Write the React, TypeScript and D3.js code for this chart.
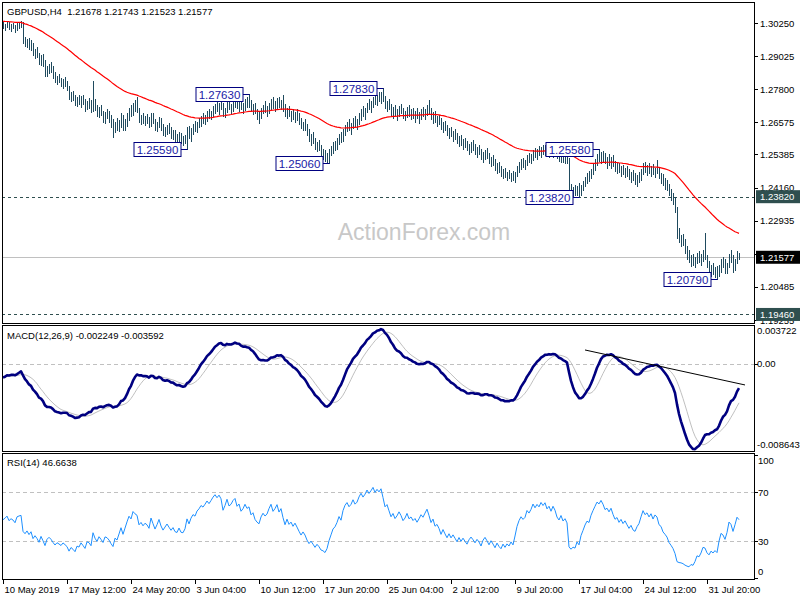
import * as d3 from "d3";

// GBPUSD H4 bars, 10 May - 2 Aug 2019
const highs = [
  1.3030, 1.3022, 1.3034, 1.3030, 1.3020, 1.3026, 1.3018, 1.3024, 1.3030, 1.3032,
  1.3030, 1.2972, 1.2966, 1.2968, 1.2962, 1.2950, 1.2930, 1.2935, 1.2915, 1.2905,
  1.2910, 1.2888, 1.2865, 1.2875, 1.2880, 1.2866, 1.2845, 1.2830, 1.2836, 1.2822,
  1.2818, 1.2825, 1.2810, 1.2790, 1.2770, 1.2775, 1.2760, 1.2752, 1.2760, 1.2756,
  1.2758, 1.2745, 1.2738, 1.2748, 1.2740, 1.2812, 1.2742, 1.2722, 1.2715, 1.2720,
  1.2700, 1.2695, 1.2705, 1.2698, 1.2685, 1.2670, 1.2660, 1.2675, 1.2665, 1.2690,
  1.2685, 1.2668, 1.2690, 1.2712, 1.2722, 1.2730, 1.2740, 1.2750, 1.2712, 1.2685,
  1.2690, 1.2680, 1.2688, 1.2676, 1.2690, 1.2692, 1.2670, 1.2660, 1.2676, 1.2674,
  1.2652, 1.2640, 1.2648, 1.2656, 1.2640, 1.2630, 1.2628, 1.2615, 1.2620, 1.2618,
  1.2605, 1.2612, 1.2640, 1.2642, 1.2635, 1.2650, 1.2662, 1.2660, 1.2672, 1.2680,
  1.2690, 1.2685, 1.2700, 1.2706, 1.2700, 1.2716, 1.2725, 1.2735, 1.2728, 1.2748,
  1.2730, 1.2712, 1.2740, 1.2745, 1.2725, 1.2740, 1.2755, 1.2752, 1.2738, 1.2745,
  1.2728, 1.2742, 1.2750, 1.2763, 1.2740, 1.2725, 1.2728, 1.2708, 1.2700, 1.2712,
  1.2722, 1.2735, 1.2718, 1.2730, 1.2745, 1.2750, 1.2738, 1.2748, 1.2752, 1.2740,
  1.2758, 1.2725, 1.2712, 1.2718, 1.2700, 1.2708, 1.2695, 1.2705, 1.2690, 1.2675,
  1.2660, 1.2668, 1.2650, 1.2632, 1.2615, 1.2620, 1.2600, 1.2585, 1.2592, 1.2575,
  1.2560, 1.2555, 1.2545, 1.2560, 1.2570, 1.2585, 1.2590, 1.2598, 1.2615, 1.2620,
  1.2632, 1.2648, 1.2660, 1.2668, 1.2655, 1.2672, 1.2680, 1.2670, 1.2690, 1.2705,
  1.2718, 1.2710, 1.2730, 1.2745, 1.2735, 1.2752, 1.2765, 1.2758, 1.2770, 1.2768,
  1.2783, 1.2755, 1.2738, 1.2745, 1.2725, 1.2715, 1.2722, 1.2705, 1.2718, 1.2725,
  1.2712, 1.2700, 1.2715, 1.2720, 1.2705, 1.2712, 1.2700, 1.2710, 1.2695, 1.2705,
  1.2715, 1.2708, 1.2722, 1.2740, 1.2712, 1.2695, 1.2700, 1.2680, 1.2685, 1.2672,
  1.2658, 1.2662, 1.2648, 1.2635, 1.2640, 1.2625, 1.2632, 1.2618, 1.2605, 1.2610,
  1.2595, 1.2600, 1.2590, 1.2578, 1.2585, 1.2592, 1.2578, 1.2565, 1.2575, 1.2560,
  1.2548, 1.2555, 1.2562, 1.2545, 1.2530, 1.2535, 1.2520, 1.2505, 1.2510, 1.2495,
  1.2485, 1.2490, 1.2475, 1.2482, 1.2470, 1.2478, 1.2475, 1.2495, 1.2510, 1.2520,
  1.2525, 1.2518, 1.2535, 1.2545, 1.2540, 1.2555, 1.2562, 1.2558, 1.2570, 1.2565,
  1.2575, 1.2572, 1.2578, 1.2565, 1.2572, 1.2568, 1.2575, 1.2565, 1.2555, 1.2545,
  1.2548, 1.2540, 1.2545, 1.2525, 1.2430, 1.2418, 1.2425, 1.2420, 1.2432, 1.2425,
  1.2440, 1.2455, 1.2470, 1.2478, 1.2485, 1.2505, 1.2520, 1.2540, 1.2558, 1.2548,
  1.2552, 1.2545, 1.2530, 1.2540, 1.2528, 1.2535, 1.2515, 1.2505, 1.2508, 1.2495,
  1.2500, 1.2490, 1.2495, 1.2485, 1.2475, 1.2480, 1.2470, 1.2462, 1.2475, 1.2485,
  1.2505, 1.2510, 1.2498, 1.2505, 1.2495, 1.2502, 1.2490, 1.2518, 1.2490, 1.2470,
  1.2465, 1.2450, 1.2445, 1.2430, 1.2410, 1.2395, 1.2380, 1.2345, 1.2265, 1.2240,
  1.2245, 1.2225, 1.2200, 1.2185, 1.2165, 1.2170, 1.2160, 1.2175, 1.2180, 1.2168,
  1.2185, 1.2247, 1.2165, 1.2145, 1.2130, 1.2135, 1.2120, 1.2125, 1.2130, 1.2150,
  1.2160, 1.2150, 1.2135, 1.2170, 1.2185, 1.2165, 1.2150, 1.2180, 1.21743,
];

const lows = [
  1.3005, 1.2998, 1.3010, 1.3004, 1.2996, 1.3006, 1.2992, 1.2998, 1.3008, 1.3012,
  1.2950, 1.2940, 1.2935, 1.2930, 1.2926, 1.2905, 1.2895, 1.2898, 1.2875, 1.2870,
  1.2864, 1.2830, 1.2828, 1.2840, 1.2845, 1.2822, 1.2805, 1.2800, 1.2806, 1.2790,
  1.2785, 1.2790, 1.2778, 1.2745, 1.2735, 1.2740, 1.2722, 1.2716, 1.2725, 1.2715,
  1.2724, 1.2700, 1.2705, 1.2710, 1.2694, 1.2700, 1.2702, 1.2680, 1.2678, 1.2684,
  1.2660, 1.2655, 1.2672, 1.2660, 1.2640, 1.2603, 1.2620, 1.2630, 1.2625, 1.2640,
  1.2630, 1.2628, 1.2645, 1.2666, 1.2680, 1.2685, 1.2700, 1.2695, 1.2660, 1.2650,
  1.2655, 1.2648, 1.2656, 1.2640, 1.2645, 1.2655, 1.2628, 1.2625, 1.2640, 1.2630,
  1.2612, 1.2605, 1.2615, 1.2618, 1.2600, 1.2596, 1.2590, 1.2585, 1.2588, 1.2582,
  1.2575, 1.2580, 1.2559, 1.2600, 1.2590, 1.2615, 1.2625, 1.2620, 1.2640, 1.2645,
  1.2655, 1.2650, 1.2662, 1.2672, 1.2668, 1.2680, 1.2690, 1.2700, 1.2688, 1.2705,
  1.2680, 1.2676, 1.2695, 1.2705, 1.2690, 1.2700, 1.2715, 1.2712, 1.2700, 1.2705,
  1.2690, 1.2702, 1.2715, 1.2715, 1.2700, 1.2688, 1.2690, 1.2670, 1.2655, 1.2672,
  1.2690, 1.2695, 1.2680, 1.2692, 1.2705, 1.2712, 1.2700, 1.2710, 1.2715, 1.2705,
  1.2700, 1.2680, 1.2675, 1.2680, 1.2662, 1.2670, 1.2660, 1.2665, 1.2650, 1.2635,
  1.2628, 1.2630, 1.2610, 1.2590, 1.2575, 1.2580, 1.2560, 1.2550, 1.2555, 1.2535,
  1.2520, 1.2515, 1.2512, 1.2506, 1.2535, 1.2545, 1.2555, 1.2560, 1.2578, 1.2585,
  1.2590, 1.2610, 1.2625, 1.2630, 1.2615, 1.2635, 1.2645, 1.2632, 1.2650, 1.2665,
  1.2680, 1.2670, 1.2695, 1.2705, 1.2695, 1.2715, 1.2725, 1.2720, 1.2735, 1.2728,
  1.2735, 1.2710, 1.2700, 1.2705, 1.2685, 1.2675, 1.2685, 1.2665, 1.2680, 1.2690,
  1.2672, 1.2665, 1.2678, 1.2682, 1.2668, 1.2675, 1.2660, 1.2672, 1.2655, 1.2668,
  1.2680, 1.2670, 1.2685, 1.2690, 1.2670, 1.2655, 1.2660, 1.2645, 1.2650, 1.2632,
  1.2622, 1.2628, 1.2610, 1.2600, 1.2605, 1.2590, 1.2595, 1.2580, 1.2570, 1.2575,
  1.2560, 1.2565, 1.2555, 1.2540, 1.2548, 1.2555, 1.2540, 1.2528, 1.2540, 1.2520,
  1.2510, 1.2520, 1.2525, 1.2505, 1.2495, 1.2498, 1.2482, 1.2470, 1.2475, 1.2460,
  1.2450, 1.2455, 1.2445, 1.2450, 1.2440, 1.2445, 1.2436, 1.2460, 1.2475, 1.2485,
  1.2492, 1.2485, 1.2500, 1.2510, 1.2505, 1.2518, 1.2528, 1.2520, 1.2535, 1.2530,
  1.2540, 1.2535, 1.2540, 1.2530, 1.2535, 1.2528, 1.2538, 1.2525, 1.2515, 1.2510,
  1.2512, 1.2505, 1.2508, 1.2405, 1.2392, 1.2385, 1.2390, 1.2388, 1.2382, 1.2390,
  1.2405, 1.2420, 1.2432, 1.2440, 1.2450, 1.2465, 1.2480, 1.2500, 1.2515, 1.2505,
  1.2515, 1.2505, 1.2490, 1.2500, 1.2488, 1.2495, 1.2478, 1.2468, 1.2472, 1.2460,
  1.2465, 1.2455, 1.2460, 1.2448, 1.2438, 1.2442, 1.2430, 1.2420, 1.2435, 1.2445,
  1.2465, 1.2472, 1.2462, 1.2468, 1.2458, 1.2465, 1.2455, 1.2470, 1.2450, 1.2432,
  1.2425, 1.2410, 1.2405, 1.2390, 1.2370, 1.2355, 1.2325, 1.2230, 1.2215, 1.2200,
  1.2205, 1.2175, 1.2150, 1.2140, 1.2125, 1.2130, 1.2120, 1.2135, 1.2140, 1.2128,
  1.2145, 1.2150, 1.2120, 1.2100, 1.2090, 1.2095, 1.2085, 1.2079, 1.2090, 1.2105,
  1.2120, 1.2100, 1.2098, 1.2120, 1.2140, 1.2105, 1.2110, 1.2135, 1.21523,
];

const closes = [
  1.3012, 1.3018, 1.3026, 1.3008, 1.3015, 1.3010, 1.3000, 1.3019, 1.3022, 1.3024,
  1.2962, 1.2950, 1.2958, 1.2940, 1.2948, 1.2912, 1.2920, 1.2905, 1.2882, 1.2898,
  1.2872, 1.2838, 1.2856, 1.2862, 1.2850, 1.2830, 1.2812, 1.2818, 1.2810, 1.2800,
  1.2806, 1.2796, 1.2784, 1.2752, 1.2760, 1.2748, 1.2730, 1.2742, 1.2736, 1.2745,
  1.2730, 1.2712, 1.2726, 1.2722, 1.2705, 1.2735, 1.2708, 1.2690, 1.2702, 1.2688,
  1.2670, 1.2684, 1.2680, 1.2668, 1.2648, 1.2630, 1.2650, 1.2640, 1.2655, 1.2672,
  1.2642, 1.2660, 1.2680, 1.2700, 1.2690, 1.2718, 1.2710, 1.2705, 1.2668, 1.2676,
  1.2662, 1.2670, 1.2664, 1.2650, 1.2682, 1.2660, 1.2636, 1.2650, 1.2668, 1.2640,
  1.2620, 1.2630, 1.2640, 1.2626, 1.2612, 1.2620, 1.2602, 1.2598, 1.2610, 1.2592,
  1.2590, 1.2600, 1.2628, 1.2610, 1.2628, 1.2640, 1.2635, 1.2652, 1.2660, 1.2672,
  1.2668, 1.2678, 1.2690, 1.2684, 1.2695, 1.2708, 1.2718, 1.2712, 1.2722, 1.2715,
  1.2690, 1.2705, 1.2728, 1.2712, 1.2718, 1.2732, 1.2740, 1.2722, 1.2730, 1.2712,
  1.2720, 1.2735, 1.2725, 1.2730, 1.2710, 1.2716, 1.2698, 1.2690, 1.2685, 1.2702,
  1.2712, 1.2705, 1.2710, 1.2725, 1.2738, 1.2722, 1.2730, 1.2742, 1.2725, 1.2735,
  1.2712, 1.2690, 1.2705, 1.2688, 1.2694, 1.2680, 1.2688, 1.2675, 1.2660, 1.2645,
  1.2652, 1.2640, 1.2618, 1.2600, 1.2605, 1.2590, 1.2572, 1.2578, 1.2565, 1.2545,
  1.2540, 1.2528, 1.2535, 1.2550, 1.2562, 1.2575, 1.2580, 1.2590, 1.2605, 1.2595,
  1.2622, 1.2640, 1.2650, 1.2640, 1.2648, 1.2665, 1.2655, 1.2662, 1.2682, 1.2698,
  1.2690, 1.2702, 1.2722, 1.2715, 1.2728, 1.2745, 1.2735, 1.2750, 1.2745, 1.2760,
  1.2742, 1.2720, 1.2728, 1.2712, 1.2695, 1.2705, 1.2690, 1.2698, 1.2710, 1.2700,
  1.2685, 1.2692, 1.2705, 1.2690, 1.2695, 1.2685, 1.2690, 1.2680, 1.2688, 1.2698,
  1.2692, 1.2702, 1.2712, 1.2698, 1.2680, 1.2688, 1.2668, 1.2672, 1.2660, 1.2640,
  1.2650, 1.2635, 1.2620, 1.2628, 1.2612, 1.2618, 1.2605, 1.2590, 1.2598, 1.2582,
  1.2588, 1.2575, 1.2562, 1.2570, 1.2575, 1.2565, 1.2552, 1.2558, 1.2548, 1.2530,
  1.2540, 1.2545, 1.2532, 1.2515, 1.2522, 1.2508, 1.2490, 1.2498, 1.2482, 1.2470,
  1.2478, 1.2462, 1.2468, 1.2458, 1.2465, 1.2452, 1.2468, 1.2488, 1.2502, 1.2512,
  1.2505, 1.2510, 1.2528, 1.2522, 1.2532, 1.2548, 1.2540, 1.2550, 1.2545, 1.2558,
  1.2552, 1.2560, 1.2548, 1.2555, 1.2545, 1.2558, 1.2550, 1.2535, 1.2528, 1.2538,
  1.2525, 1.2530, 1.2520, 1.2418, 1.2400, 1.2405, 1.2398, 1.2412, 1.2395, 1.2418,
  1.2432, 1.2448, 1.2460, 1.2455, 1.2478, 1.2495, 1.2512, 1.2530, 1.2525, 1.2540,
  1.2530, 1.2515, 1.2520, 1.2510, 1.2522, 1.2505, 1.2490, 1.2495, 1.2480, 1.2488,
  1.2475, 1.2482, 1.2470, 1.2458, 1.2465, 1.2450, 1.2445, 1.2455, 1.2462, 1.2478,
  1.2495, 1.2485, 1.2490, 1.2480, 1.2488, 1.2475, 1.2485, 1.2480, 1.2460, 1.2455,
  1.2438, 1.2430, 1.2420, 1.2398, 1.2385, 1.2368, 1.2335, 1.2245, 1.2230, 1.2225,
  1.2212, 1.2185, 1.2165, 1.2150, 1.2155, 1.2140, 1.2148, 1.2160, 1.2150, 1.2158,
  1.2170, 1.2165, 1.2130, 1.2112, 1.2120, 1.2105, 1.2110, 1.2095, 1.2120, 1.2140,
  1.2132, 1.2110, 1.2128, 1.2160, 1.2150, 1.2118, 1.2140, 1.2168, 1.21577,
];

const timeLabels = [
  "10 May 2019", "17 May 12:00", "24 May 20:00", "3 Jun 04:00", "10 Jun 12:00", "17 Jun 20:00",
  "25 Jun 04:00", "2 Jul 12:00", "9 Jul 20:00", "17 Jul 04:00", "24 Jul 12:00", "31 Jul 20:00",
];
const barsPerLabel = 32;

const priceTicks = [1.3025, 1.29025, 1.278, 1.26575, 1.25385, 1.2416, 1.22935, 1.2171, 1.20485, 1.19255];
const levelPrices = [1.2382, 1.1946];
const lastPrice = 1.21577;

// swing high / low labels
const swingBars = [92, 123, 163, 190, 288, 298, 357];
const swingPrices = [1.2559, 1.2763, 1.2506, 1.2783, 1.2382, 1.2558, 1.2079];

// indicator settings, seeds from the values at the left edge of the chart
const maPeriod = 55;
const maSeed = 1.3032;
const fastSeed = 1.3022;
const slowSeed = 1.3036;
const rsiSeedGain = 0.0009;
const rsiSeedLoss = 0.001;

const macdRange = [-0.008643, 0.003722];
const macdTicks = [0.003722, 0, -0.008643];
const rsiTicks = [100, 70, 30, 0];
const rsiLevels = [70, 30];
const trendBars = [291, 371];
const trendValues = [0.00135, -0.00211];

const FONT = "Liberation Sans, Arial, sans-serif";
const BAR_COLOR = "#1f4a5e";

const ema = (vals: number[], period: number, seed: number) => {
  const k = 2 / (period + 1);
  let prev = seed;
  return vals.map((v) => (prev = prev + k * (v - prev)));
};

const rsiOf = (vals: number[], period: number) => {
  let g = rsiSeedGain;
  let l = rsiSeedLoss;
  return vals.map((v, i) => {
    if (i > 0) {
      const d = v - vals[i - 1];
      g = (g * (period - 1) + Math.max(d, 0)) / period;
      l = (l * (period - 1) + Math.max(-d, 0)) / period;
    }
    return 100 - 100 / (1 + g / l);
  });
};

const App = () => {
  const left = 2, right = 754;
  const main = {top: 2, bottom: 323};
  const macdP = {top: 325, bottom: 451};
  const rsiP = {top: 453, bottom: 579};

  const n = closes.length;
  const x = d3.scaleLinear().domain([0, n - 1]).range([3, 3 + 2 * (n - 1)]);
  const y = d3.scaleLinear().domain([priceTicks[priceTicks.length - 1], priceTicks[0]]).range([320, 23]);
  const yM = d3.scaleLinear().domain(macdRange).range([macdP.bottom, macdP.top + 1]);
  const yR = d3.scaleLinear().domain([0, 100]).range([577.75, 455.25]);

  const ma = ema(closes, maPeriod, maSeed);
  const fast = ema(closes, 12, fastSeed);
  const slow = ema(closes, 26, slowSeed);
  const macd = fast.map((f, i) => f - slow[i]);
  const signal = macd.map((_, i) => d3.mean(macd.slice(Math.max(0, i - 8), i + 1)) as number);
  const rsi = rsiOf(closes, 14);

  const px = (i: number) => Math.round(x(i)) + 0.5;
  const barPath = closes
    .map((_, i) => `M${px(i)},${Math.round(y(highs[i]))}V${Math.round(y(lows[i])) + 1}`)
    .join("");

  const lineOf = (vals: number[], sy: d3.ScaleLinear<number, number>) =>
    d3.line<number>().x((_, i) => x(i)).y((v) => sy(v))(vals) || "";

  const axisText = {fontFamily: FONT, fontSize: 9.5, fill: "#000"};

  return (
    <svg width={800} height={600} style={{position: "absolute", left: 0, top: 0, background: "#fff"}}>
      <defs>
        <clipPath id="clipMain"><rect x={left} y={main.top} width={right - left} height={main.bottom - main.top} /></clipPath>
        <clipPath id="clipMacd"><rect x={left} y={macdP.top} width={right - left} height={macdP.bottom - macdP.top} /></clipPath>
        <clipPath id="clipRsi"><rect x={left} y={rsiP.top} width={right - left} height={rsiP.bottom - rsiP.top} /></clipPath>
      </defs>

      {/* watermark */}
      <text x={424} y={240} textAnchor="middle" fontFamily={FONT} fontSize={23} fill="#c8c8c8">ActionForex.com</text>

      {/* main panel */}
      <g clipPath="url(#clipMain)">
        {levelPrices.map((p) => (
          <line key={p} x1={left} x2={right} y1={Math.round(y(p)) + 0.5} y2={Math.round(y(p)) + 0.5}
                stroke="#2f4f4f" strokeDasharray="3,3" />
        ))}
        <line x1={left} x2={right} y1={Math.round(y(lastPrice)) + 0.5} y2={Math.round(y(lastPrice)) + 0.5} stroke="#c0c0c0" />
        <path d={barPath} stroke={BAR_COLOR} strokeWidth={1} shapeRendering="crispEdges" fill="none" />
        <path d={lineOf(ma, y)} stroke="#ff0000" strokeWidth={1.2} fill="none" />
        {swingBars.map((b, k) => {
          const yy = Math.round(y(swingPrices[k])) + 0.5;
          const bx = Math.round(x(b)) - 6;
          return (
            <g key={b}>
              <line x1={bx} x2={px(b)} y1={yy} y2={yy} stroke="#000080" />
              <rect x={bx - 47} y={yy - 7} width={47} height={14} fill="#fff" stroke="#000080" />
              <text x={bx - 23.5} y={yy + 4} textAnchor="middle" fontFamily={FONT} fontSize={11.5} fill="#1a1aa6">
                {swingPrices[k].toFixed(5)}
              </text>
            </g>
          );
        })}
      </g>
      <text x={7} y={15} {...axisText} style={{whiteSpace: "pre"}}>GBPUSD,H4  1.21678 1.21743 1.21523 1.21577</text>

      {/* MACD panel */}
      <g clipPath="url(#clipMacd)">
        <line x1={left} x2={right} y1={Math.round(yM(0)) + 0.5} y2={Math.round(yM(0)) + 0.5} stroke="#c0c0c0" strokeDasharray="4,3" />
        <path d={lineOf(signal, yM)} stroke="#c0c0c0" strokeWidth={1} fill="none" />
        <path d={lineOf(macd, yM)} stroke="#000080" strokeWidth={2.6} fill="none" strokeLinejoin="round" />
        <line x1={x(trendBars[0])} x2={x(trendBars[1])} y1={yM(trendValues[0])} y2={yM(trendValues[1])} stroke="#000" strokeWidth={1} />
      </g>
      <text x={7} y={339} {...axisText}>MACD(12,26,9) -0.002249 -0.003592</text>

      {/* RSI panel */}
      <g clipPath="url(#clipRsi)">
        {rsiLevels.map((v) => (
          <line key={v} x1={left} x2={right} y1={Math.round(yR(v)) + 0.5} y2={Math.round(yR(v)) + 0.5} stroke="#c0c0c0" strokeDasharray="4,3" />
        ))}
        <path d={lineOf(rsi, yR)} stroke="#1e90ff" strokeWidth={1} fill="none" />
      </g>
      <text x={7} y={466} {...axisText}>RSI(14) 46.6638</text>

      {/* frames */}
      {[main, macdP, rsiP].map((p, k) => (
        <rect key={k} x={left + 0.5} y={p.top + 0.5} width={right - left} height={p.bottom - p.top} fill="none" stroke="#000" />
      ))}

      {/* price axis */}
      {priceTicks.map((t) => (
        <g key={t}>
          <line x1={right} x2={right + 4} y1={Math.round(y(t)) + 0.5} y2={Math.round(y(t)) + 0.5} stroke="#000" />
          <text x={760} y={y(t) + 3.5} {...axisText}>{t.toFixed(5)}</text>
        </g>
      ))}
      {levelPrices.map((p) => (
        <g key={p}>
          <rect x={756} y={y(p) - 6.5} width={44} height={13} fill="#2f4f4f" />
          <text x={760} y={y(p) + 3.5} {...axisText} fill="#fff">{p.toFixed(5)}</text>
        </g>
      ))}
      <rect x={756} y={y(lastPrice) - 6.5} width={44} height={13} fill="#000" />
      <text x={760} y={y(lastPrice) + 3.5} {...axisText} fill="#fff">{lastPrice.toFixed(5)}</text>

      {/* MACD axis */}
      {macdTicks.map((t, k) => {
        const ty = k === 0 ? yM(t) + 8 : k === macdTicks.length - 1 ? yM(t) - 3 : yM(t) + 3.5;
        return (
          <g key={t}>
            {k === 1 && <line x1={right} x2={right + 4} y1={Math.round(yM(t)) + 0.5} y2={Math.round(yM(t)) + 0.5} stroke="#000" />}
            <text x={757} y={ty} {...axisText}>{k === 1 ? t.toFixed(2) : t.toFixed(6)}</text>
          </g>
        );
      })}

      {/* RSI axis */}
      {rsiTicks.map((t, k) => {
        const ty = k === 0 ? yR(t) + 9 : k === rsiTicks.length - 1 ? yR(t) - 3 : yR(t) + 3.5;
        return (
          <g key={t}>
            <line x1={right} x2={right + 4} y1={Math.round(yR(t)) + 0.5} y2={Math.round(yR(t)) + 0.5} stroke="#000" />
            <text x={758} y={ty} {...axisText}>{t}</text>
          </g>
        );
      })}

      {/* time axis */}
      {timeLabels.map((lab, k) => {
        const tx = Math.round(x(k * barsPerLabel)) + 0.5;
        return (
          <g key={lab}>
            <line x1={tx} x2={tx} y1={rsiP.bottom} y2={rsiP.bottom + 5} stroke="#000" />
            <text x={tx + 1} y={593} {...axisText}>{lab}</text>
          </g>
        );
      })}
    </svg>
  );
};

export default App;
